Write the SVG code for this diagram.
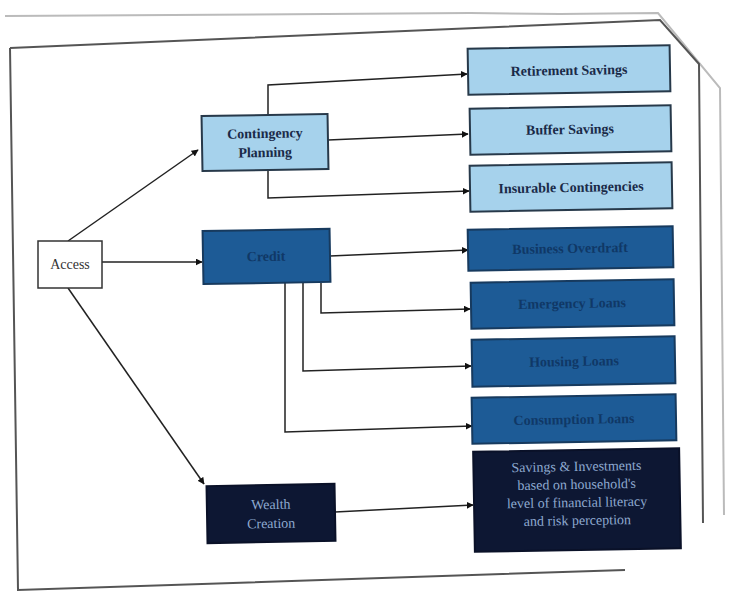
<svg xmlns="http://www.w3.org/2000/svg" width="730" height="605" viewBox="0 0 730 605">
<defs>
<marker id="ah" viewBox="0 0 10 10" refX="9" refY="5" markerWidth="7" markerHeight="7" orient="auto" markerUnits="userSpaceOnUse">
<path d="M0,0 L10,5 L0,10 z" fill="#111"/>
</marker>
<style>
.light{fill:#a6d2ec;stroke:#27394a;stroke-width:2}
.mid{fill:#1d5b96;stroke:#173a5e;stroke-width:2}
.navy{fill:#0d1733;stroke:#0a1128;stroke-width:2}
.white{fill:#fff;stroke:#333;stroke-width:1.5}
.tl{font-family:"Liberation Serif",serif;font-weight:bold;font-size:14px;fill:#1a2a48;text-anchor:middle}
.tm{font-family:"Liberation Serif",serif;font-weight:bold;font-size:14px;fill:#103866;text-anchor:middle}
.tn{font-family:"Liberation Serif",serif;font-size:14px;fill:#8ea9cf;text-anchor:middle}
.tw{font-family:"Liberation Serif",serif;font-size:14px;fill:#333;text-anchor:middle}
.c{fill:none;stroke:#222;stroke-width:1.5}
.frame{fill:none;stroke:#555;stroke-width:2}
.edge{fill:none;stroke:#bbb;stroke-width:2}
</style>
</defs>
<rect width="730" height="605" fill="#fff"/>
<g id="frame">
<path class="edge" d="M5,16 L470,13 L560,14 L658,13 L720,88 L724,515"/>
<path class="frame" d="M10,48 L660,20 L699,64 L703,523"/>
<path class="frame" d="M10,48 L18,590 L625,570"/>
</g>
<g id="connectors">
<path class="c" d="M68,241 L198,150" marker-end="url(#ah)"/>
<path class="c" d="M102,262 L202,262" marker-end="url(#ah)"/>
<path class="c" d="M68,288 L204,484" marker-end="url(#ah)"/>
<path class="c" d="M268,115 L268,85 L467,74" marker-end="url(#ah)"/>
<path class="c" d="M328,140 L468,134" marker-end="url(#ah)"/>
<path class="c" d="M268,170 L268,198 L469,191" marker-end="url(#ah)"/>
<path class="c" d="M330,256 L468,250" marker-end="url(#ah)"/>
<path class="c" d="M321,283 L321,313 L470,309" marker-end="url(#ah)"/>
<path class="c" d="M303,283 L303,371 L471,366" marker-end="url(#ah)"/>
<path class="c" d="M285,283 L285,432 L472,426" marker-end="url(#ah)"/>
<path class="c" d="M335,512 L473,505" marker-end="url(#ah)"/>
</g>
<g id="access">
<rect class="white" x="38" y="241" width="64" height="47"/>
<text class="tw" x="70" y="269">Access</text>
</g>
<g id="contingency" transform="rotate(-1 265 142)">
<rect class="light" x="202" y="115" width="126" height="55"/>
<text class="tl" x="265" y="138">Contingency</text>
<text class="tl" x="265" y="157">Planning</text>
</g>
<g id="credit" transform="rotate(-1 266 256)">
<rect class="mid" x="203" y="230" width="127" height="53"/>
<text class="tm" x="266" y="261">Credit</text>
</g>
<g id="wealth" transform="rotate(-1 271 513)">
<rect class="navy" x="207" y="485" width="128" height="57"/>
<text class="tn" x="271" y="509">Wealth</text>
<text class="tn" x="271" y="528">Creation</text>
</g>
<g id="retirement" transform="rotate(-1 569 70)">
<rect class="light" x="468" y="47" width="202" height="46"/>
<text class="tl" x="569" y="75">Retirement Savings</text>
</g>
<g id="buffer" transform="rotate(-1 570 130)">
<rect class="light" x="470" y="107" width="201" height="46"/>
<text class="tl" x="570" y="134">Buffer Savings</text>
</g>
<g id="insurable" transform="rotate(-1 571 187)">
<rect class="light" x="470" y="164" width="202" height="46"/>
<text class="tl" x="571" y="192">Insurable Contingencies</text>
</g>
<g id="overdraft" transform="rotate(-1 570 248)">
<rect class="mid" x="468" y="228" width="205" height="41"/>
<text class="tm" x="570" y="253">Business Overdraft</text>
</g>
<g id="emergency" transform="rotate(-1 572 304)">
<rect class="mid" x="471" y="281" width="203" height="46"/>
<text class="tm" x="572" y="308">Emergency Loans</text>
</g>
<g id="housing" transform="rotate(-1 574 361)">
<rect class="mid" x="472" y="338" width="203" height="47"/>
<text class="tm" x="574" y="366">Housing Loans</text>
</g>
<g id="consumption" transform="rotate(-1 574 419)">
<rect class="mid" x="472" y="396" width="204" height="46"/>
<text class="tm" x="574" y="424">Consumption Loans</text>
</g>
<g id="savings" transform="rotate(-1 577 500)">
<rect class="navy" x="474" y="450" width="206" height="100"/>
<text class="tn" x="577" y="471">Savings &amp; Investments</text>
<text class="tn" x="577" y="489">based on household's</text>
<text class="tn" x="577" y="507">level of financial literacy</text>
<text class="tn" x="577" y="525">and risk perception</text>
</g>
</svg>
